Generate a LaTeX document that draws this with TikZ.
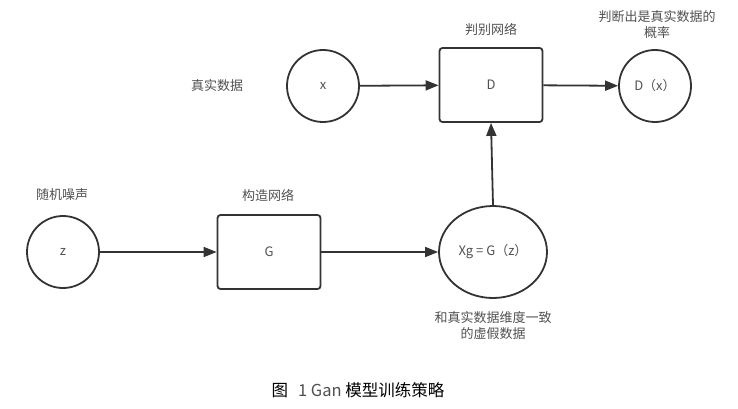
\documentclass[tikz,border=0pt]{standalone}
\usepackage{fontspec}
\setmainfont{Noto Sans CJK SC}
\usetikzlibrary{arrows.meta,shapes.geometric}
\definecolor{ln}{HTML}{333333}
\definecolor{tx}{HTML}{505050}
\tikzset{
  x=1pt,y=-1pt,
  every node/.style={font=\fontsize{13}{16}\selectfont, text=tx},
  circ/.style={draw=ln, line width=1.8pt, circle, minimum size=72pt, inner sep=0pt},
  ell/.style={draw=ln, line width=1.8pt, ellipse, minimum width=108pt, minimum height=92pt, inner sep=0pt},
  boxn/.style={draw=ln, line width=1.8pt, rounded corners=3pt, minimum width=103pt, minimum height=74pt, inner sep=0pt},
  conn/.style={draw=ln, line width=1.8pt, -{Triangle[length=13pt,width=10pt]}},
  lbl/.style={align=center}
}
\begin{document}
\begin{tikzpicture}
\useasboundingbox (0,0) rectangle (738,409);
\node[lbl] (real) at (217,86) {真实数据};
\node[circ] (x) at (323,86) {x};
\node[boxn] (D) at (491,85) {D};
\node[lbl] (dlbl) at (491,30) {判别网络};
\node[circ] (Dx) at (655,86) {D（x）};
\node[lbl] (plbl) at (657,25) {判断出是真实数据的\\概率};
\node[lbl] (noise) at (62,195) {随机噪声};
\node[circ] (z) at (63,252) {z};
\node[lbl] (glbl) at (268,195) {构造网络};
\node[boxn] (G) at (269,252) {G};
\node[ell] (Xg) at (493,252) {Xg = G（z）};
\node[lbl] (fake) at (493,326) {和真实数据维度一致\\的虚假数据};
\node[font=\fontsize{16.5}{19}\selectfont, text=black] (cap) at (358,390) {图\hspace{10pt}{\color{tx}1 Gan} 模型训练策略};
\draw[conn] (x) -- (D);
\draw[conn] (D) -- (Dx);
\draw[conn] (z) -- (G);
\draw[conn] (G) -- (Xg);
\draw[conn] (Xg.north) -- (D.south);
\end{tikzpicture}
\end{document}
